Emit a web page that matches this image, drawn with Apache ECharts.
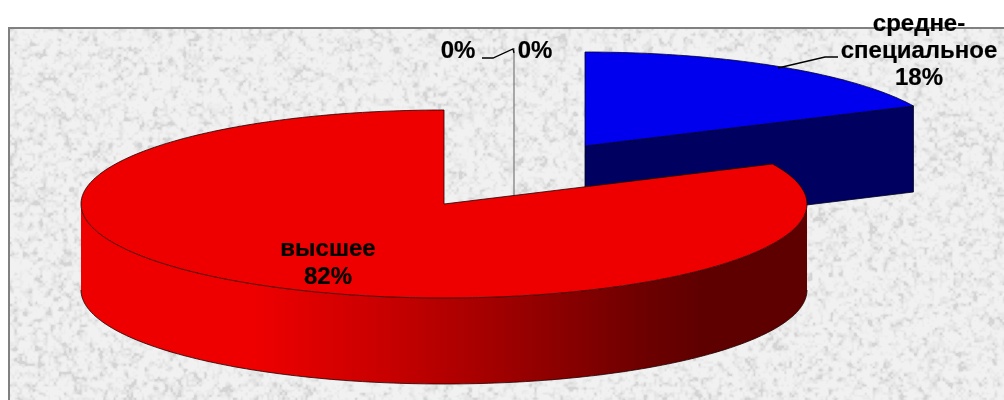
<!DOCTYPE html>
<html>
<head>
<meta charset="utf-8">
<style>html,body{margin:0;padding:0;background:#fff}#c{width:1004px;height:400px}</style>
<script src="https://cdn.jsdelivr.net/npm/echarts@6/dist/echarts.min.js"></script>
</head>
<body>
<div id="c"></div>
<script>
const categories = ['средне-специальное', 'высшее', '', ''];
const values = [18, 82, 0, 0];
const topColors = ['#0000ee', '#ee0000', '#808080', '#808080'];

const total = values.reduce((a, b) => a + b, 0);
const RX = 363, RY = 94, DEPTH = 86;
const centers = [[585, 146], [444, 204], [514, 175], [514, 175]];
const FONT = 'bold 24px "Liberation Sans", Arial, sans-serif';

function rim(c, deg, dy) {
  const a = deg * Math.PI / 180;
  return [c[0] + RX * Math.sin(a), c[1] - RY * Math.cos(a) + (dy || 0)];
}
function arc(c, a0, a1, dy) {
  const pts = [], n = Math.max(2, Math.ceil(Math.abs(a1 - a0)));
  for (let i = 0; i <= n; i++) pts.push(rim(c, a0 + (a1 - a0) * i / n, dy));
  return pts;
}
function startAngle(i) {
  let s = 0;
  for (let k = 0; k < i; k++) s += values[k];
  return s / total * 360;
}

// decorative paper texture (deterministic hash noise)
function hash(x, y) {
  const s = Math.sin(x * 127.1 + y * 311.7) * 43758.5453;
  return s - Math.floor(s);
}
function vnoise(x, y) {
  const xi = Math.floor(x), yi = Math.floor(y), f = x - xi, g = y - yi;
  const u = f * f * (3 - 2 * f), v = g * g * (3 - 2 * g);
  const a = hash(xi, yi), b = hash(xi + 1, yi), c = hash(xi, yi + 1), d = hash(xi + 1, yi + 1);
  return a + (b - a) * u + (c - a) * v + (a - b - c + d) * u * v;
}
function texture(w, h) {
  const cv = document.createElement('canvas');
  cv.width = w; cv.height = h;
  const ctx = cv.getContext('2d'), img = ctx.createImageData(w, h);
  for (let y = 0; y < h; y++) for (let x = 0; x < w; x++) {
    const n = 0.55 * vnoise(x / 5, y / 5) + 0.45 * vnoise(x / 2.6 + 50, y / 2.6 + 50);
    const t = Math.min(1, Math.max(0, (n - 0.22) / 0.38));
    const g = 212 + 29 * Math.sqrt(t), o = (y * w + x) * 4;
    img.data[o] = img.data[o + 1] = img.data[o + 2] = g;
    img.data[o + 3] = 255;
  }
  ctx.putImageData(img, 0, 0);
  return cv;
}

function renderItem(params, api) {
  const i = params.dataIndex, v = api.value(0), c = centers[i];
  const a0 = startAngle(i), a1 = a0 + v / total * 360;
  const children = [];
  const line = '#200000';
  if (i === 0) {
    const p = rim(c, a1);
    children.push({ type: 'polygon', z2: 1, shape: { points: [c, p, [p[0], p[1] + DEPTH], [c[0], c[1] + DEPTH]] },
      style: { fill: '#000060', stroke: '#000020', lineWidth: 0.8 } });
    children.push({ type: 'polygon', z2: 2, shape: { points: [c].concat(arc(c, a0, a1)) },
      style: { fill: topColors[i], stroke: '#000030', lineWidth: 0.8 } });
    children.push({ type: 'polyline', z2: 9, shape: { points: [[778, 68], [825, 57], [838, 57]] },
      style: { fill: null, stroke: '#000', lineWidth: 1.4 } });
    children.push({ type: 'text', z2: 20, style: { text: 'средне-\nспециальное\n' + v + '%', x: 919, y: 11, font: FONT, fill: '#000', stroke: '#000', lineWidth: 0.2, align: 'center', verticalAlign: 'top', lineHeight: 27 } });
  } else if (i === 1) {
    const top = arc(c, a0, a1);
    const wallTop = arc(c, 90, 270);
    const wallBottom = arc(c, 270, 90, DEPTH);
    children.push({ type: 'polygon', z2: 5, shape: { points: wallTop.concat(wallBottom) },
      style: {
        fill: new echarts.graphic.LinearGradient(0, 0, 1, 0, [
          { offset: 0, color: '#ee0000' }, { offset: 0.24, color: '#ee0000' },
          { offset: 0.42, color: '#c80000' }, { offset: 0.6, color: '#9a0000' },
          { offset: 0.78, color: '#6c0000' }, { offset: 0.86, color: '#5e0000' }, { offset: 1, color: '#5e0000' }
        ]) } });
    children.push({ type: 'polyline', z2: 5, shape: { points: wallBottom }, style: { fill: null, stroke: line, lineWidth: 0.8 } });
    children.push({ type: 'polygon', z2: 6, shape: { points: [c].concat(top) },
      style: { fill: topColors[i], stroke: line, lineWidth: 0.8 } });
    children.push({ type: 'text', z2: 20, style: { text: categories[i] + '\n' + v + '%', x: 328, y: 235, font: FONT, fill: '#000', stroke: '#000', lineWidth: 0.2, align: 'center', verticalAlign: 'top', lineHeight: 28 } });
  } else {
    if (i === 2) {
      children.push({ type: 'line', z2: 3, shape: { x1: 514, y1: 48, x2: 514, y2: 197 }, style: { stroke: '#777777', lineWidth: 1.2 } });
      children.push({ type: 'polyline', z2: 9, shape: { points: [[482, 58], [493, 58], [513, 49], [514, 53]] }, style: { fill: null, stroke: '#000', lineWidth: 1.3 } });
    }
    children.push({ type: 'text', z2: 20, style: { text: v + '%', x: i === 2 ? 458 : 535, y: 51, font: FONT, fill: '#000', stroke: '#000', lineWidth: 0.2, align: 'center', verticalAlign: 'middle' } });
  }
  return { type: 'group', children };
}

const chart = echarts.init(document.getElementById('c'), null, { renderer: 'canvas', width: 1004, height: 400 });
chart.setOption({
  animation: false,
  backgroundColor: '#ffffff',
  graphic: [
    { type: 'image', z: -10, silent: true, style: { image: texture(994, 371), x: 10, y: 29, width: 994, height: 371 } },
    { type: 'polyline', z: -9, silent: true, shape: { points: [[9, 400], [9, 28], [1004, 28]] }, style: { fill: null, stroke: '#808080', lineWidth: 2 } }
  ],
  series: [{
    type: 'custom',
    coordinateSystem: 'none',
    silent: true,
    renderItem,
    data: values.map((v, i) => ({ name: categories[i], value: [v] }))
  }]
});
</script>
</body>
</html>
